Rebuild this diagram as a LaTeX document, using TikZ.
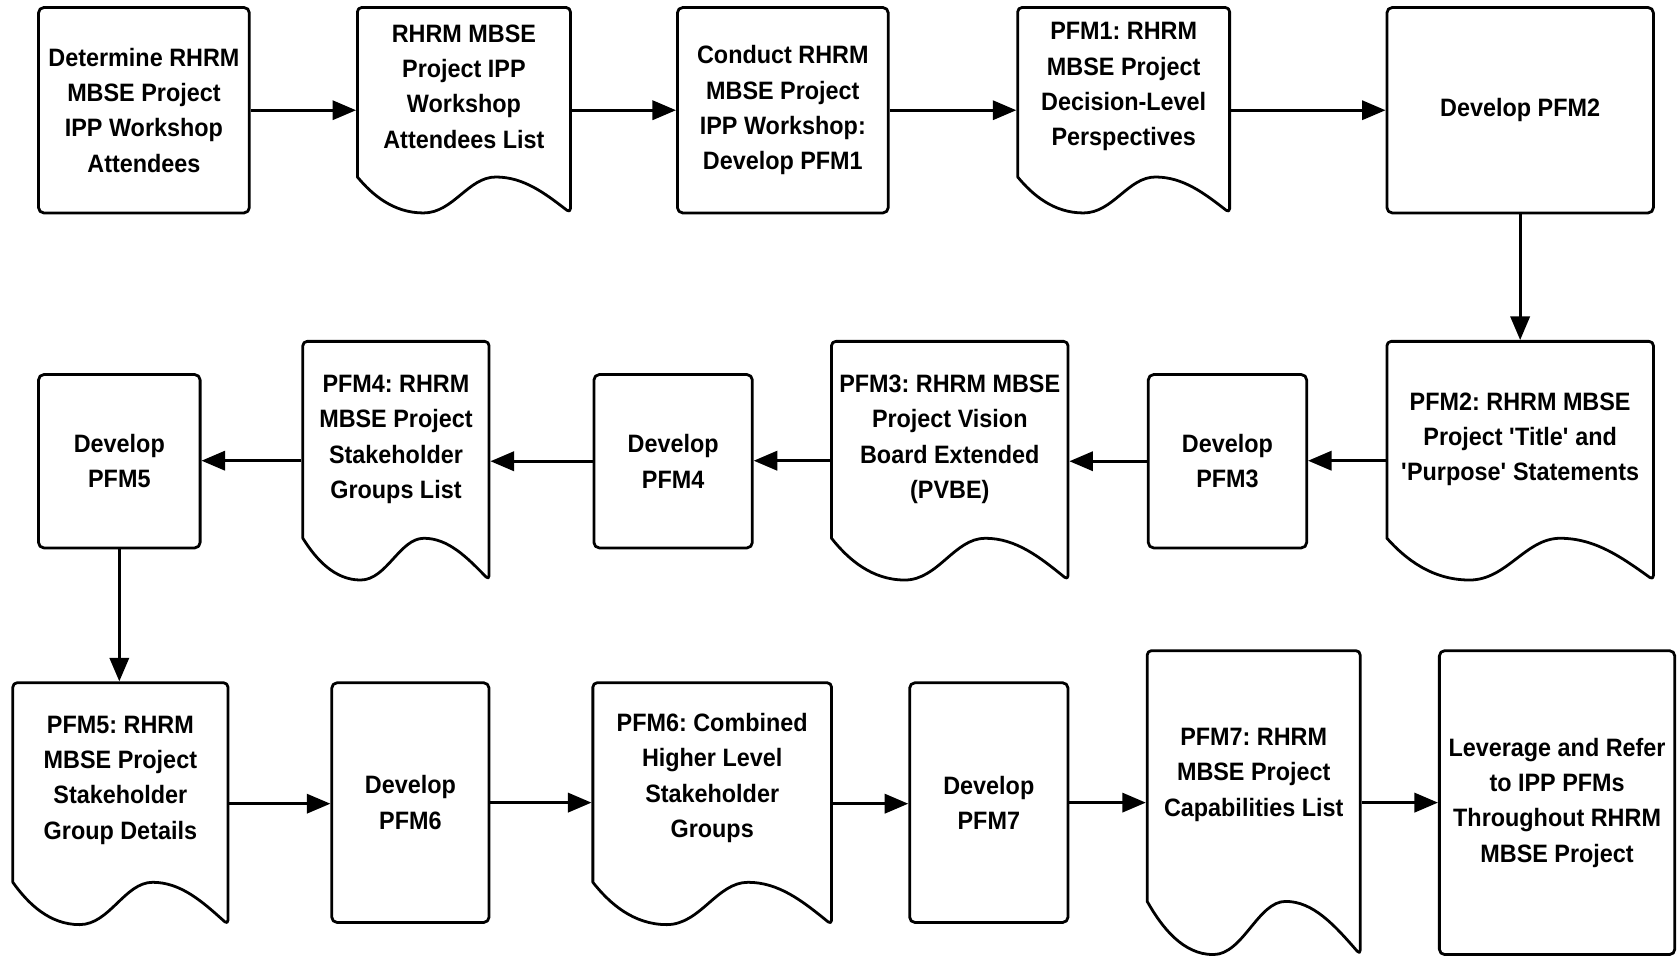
\documentclass[tikz,border=0pt]{standalone}
\usepackage{fontspec}
\setmainfont{Liberation Sans}[FakeStretch=0.93]
\frenchspacing
\usetikzlibrary{arrows.meta}
\tikzset{
  ln/.style={line width=2.6pt, line join=round},
  txt/.style={font=\bfseries\fontsize{23.5}{33}\selectfont, align=center},
  procbox/.style={ln, draw, rounded corners=5pt, fill=white, inner sep=0pt, txt},
  docbox/.style={inner sep=0pt, outer sep=1.3pt, draw=none},
  flow/.style={line width=2.6pt, -{Triangle[length=22pt,width=18pt]}},
}
\newcommand\procnode[6]{%
  \node[procbox, minimum width={(#4-#2)*1pt}, minimum height={(#5-#3)*1pt}] (#1) at ({(#2+#4)/2},{(#3+#5)/2}) {#6};}
\newcommand\docnode[7]{%
  \pgfmathsetmacro\dW{#4-#2}%
  \pgfmathsetmacro\dD{0.175*(#5-#3)}%
  \node[docbox, minimum width={(#4-#2)*1pt}, minimum height={(#5-#3)*1pt}] (#1) at ({(#2+#4)/2},{(#3+#5)/2}) {};
  \draw[ln, fill=white] (#2,{#5-\dD}) [rounded corners=4pt] -- (#2,#3) -- (#4,#3) -- (#4,#5) [sharp corners]
    .. controls ({#4-0.12*\dW},{#5-0.55*\dD}) and ({#2+0.78*\dW},{#5-\dD}) .. ({#2+0.65*\dW},{#5-\dD})
    .. controls ({#2+0.52*\dW},{#5-\dD}) and ({#2+0.45*\dW},#5) .. ({#2+0.31*\dW},#5)
    .. controls ({#2+0.17*\dW},#5) and ({#2+0.07*\dW},{#5-0.5*\dD}) .. (#2,{#5-\dD}) -- cycle;
  \node[txt] (#1t) at ([yshift=#6pt]#1.center) {#7};}
\begin{document}
\begin{tikzpicture}[x=1pt,y=-1pt]
\useasboundingbox[fill=white] (0,0) rectangle (1568,894);
% row 1
\procnode{n1}{36}{7}{233}{199}{Determine RHRM\\MBSE Project\\IPP Workshop\\Attendees}
\docnode{n2}{334}{7}{533}{199}{22}{RHRM MBSE\\Project IPP\\Workshop\\Attendees List}
\procnode{n3}{633}{7}{830}{199}{Conduct RHRM\\MBSE Project\\IPP Workshop:\\Develop PFM1}
\docnode{n4}{951}{7}{1149}{199}{22}{PFM1: RHRM\\MBSE Project\\Decision-Level\\Perspectives}
\procnode{n5}{1296}{7}{1545}{199}{Develop PFM2}
% row 2
\docnode{n6}{1296}{319}{1545}{542}{20}{PFM2: RHRM MBSE\\Project \textquotesingle Title\textquotesingle{} and\\\textquotesingle Purpose\textquotesingle{} Statements}
\procnode{n7}{1073}{350}{1221}{512}{Develop\\PFM3}
\docnode{n8}{777}{319}{998}{542}{20}{PFM3: RHRM MBSE\\Project Vision\\Board Extended\\(PVBE)}
\procnode{n9}{555}{350}{703}{512}{Develop\\PFM4}
\docnode{n10}{283}{319}{457}{542}{20}{PFM4: RHRM\\MBSE Project\\Stakeholder\\Groups List}
\procnode{n11}{36}{350}{187}{512}{Develop\\PFM5}
% row 3
\docnode{n12}{12}{638}{213}{864}{22}{PFM5: RHRM\\MBSE Project\\Stakeholder\\Group Details}
\procnode{n13}{310}{638}{457}{862}{Develop\\PFM6}
\docnode{n14}{554}{638}{777}{864}{24}{PFM6: Combined\\Higher Level\\Stakeholder\\Groups}
\procnode{n15}{850}{638}{998}{862}{Develop\\PFM7}
\docnode{n16}{1072}{608}{1271}{892}{26}{PFM7: RHRM\\MBSE Project\\Capabilities List}
\procnode{n17}{1345}{608}{1565}{892}{Leverage and Refer\\to IPP PFMs\\Throughout RHRM\\MBSE Project}
% connectors
\draw[flow] (n1.east) -- (n1.east -| n2.west);
\draw[flow] (n2.east) -- (n2.east -| n3.west);
\draw[flow] (n3.east) -- (n3.east -| n4.west);
\draw[flow] (n4.east) -- (n4.east -| n5.west);
\draw[flow] (n5.south) -- (n5.south |- n6.north);
\draw[flow] (n6.west) -- (n6.west -| n7.east);
\draw[flow] (n7.west) -- (n7.west -| n8.east);
\draw[flow] (n8.west) -- (n8.west -| n9.east);
\draw[flow] (n9.west) -- (n9.west -| n10.east);
\draw[flow] (n10.west) -- (n10.west -| n11.east);
\draw[flow] (n11.south) -- (n11.south |- n12.north);
\draw[flow] (n12.east) -- (n12.east -| n13.west);
\draw[flow] (n13.east) -- (n13.east -| n14.west);
\draw[flow] (n14.east) -- (n14.east -| n15.west);
\draw[flow] (n15.east) -- (n15.east -| n16.west);
\draw[flow] (n16.east) -- (n16.east -| n17.west);
\end{tikzpicture}
\end{document}
